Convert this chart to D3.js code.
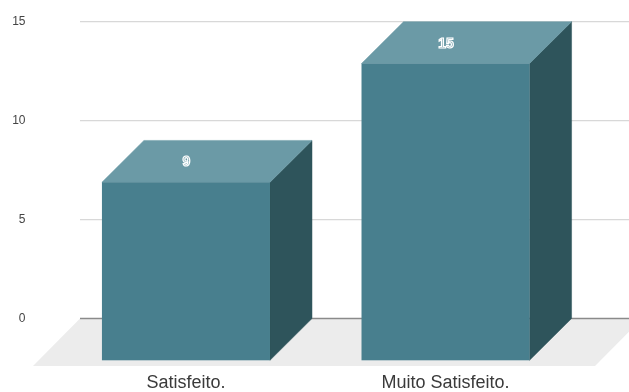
<!DOCTYPE html>
<html><head><meta charset="utf-8">
<script src="https://cdnjs.cloudflare.com/ajax/libs/d3/7.8.5/d3.min.js"></script>
<style>html,body{margin:0;padding:0;background:#fff}svg{display:block;filter:blur(0.35px)}text{font-family:"Liberation Sans",Arial,sans-serif}</style>
</head><body><svg id="c" width="629" height="392"></svg>
<script>
const categories = ["Satisfeito.", "Muito Satisfeito."];
const values = [9, 15];
const yTicks = [0, 5, 10, 15];

const svg = d3.select("#c");
const depthX = 42, depthY = 41.8;
const y = d3.scaleLinear().domain([0, 15]).range([318.5, 21.7]);
const x = d3.scaleBand().domain(categories).range([56.25, 575.25]).paddingInner(0.3526).paddingOuter(0.176);
const path = pts => "M" + pts.map(p => p.join(",")).join("L") + "Z";

// floor
svg.append("path").attr("fill", "#ececec")
  .attr("d", path([[80, 318.5], [642, 318.5], [595, 366], [33, 366]]));

// gridlines and axis labels
svg.selectAll(".grid").data(yTicks).join("line")
  .attr("x1", 80).attr("x2", 629)
  .attr("y1", d => y(d)).attr("y2", d => y(d))
  .attr("stroke", d => d === 0 ? "#8a8a8a" : "#d8d8d8")
  .attr("stroke-width", d => d === 0 ? 1.5 : 1.2);
svg.selectAll(".ytick").data(yTicks).join("text")
  .attr("x", 25.5).attr("y", d => y(d) - 0.5)
  .attr("text-anchor", "end").attr("dominant-baseline", "central")
  .attr("font-size", 12).attr("fill", "#444").text(d => d);

// bars
const bars = svg.selectAll(".bar").data(categories.map((c, i) => ({c, v: values[i]}))).join("g");
const frontX = d => x(d.c), bw = x.bandwidth();
const topY = d => y(d.v) + depthY, baseY = y(0) + depthY;
bars.append("path").attr("fill", "#2e545b").attr("stroke", "#2e545b").attr("stroke-width", 0.5).attr("d", d => path([
  [frontX(d) + bw, topY(d)], [frontX(d) + bw + depthX, y(d.v)],
  [frontX(d) + bw + depthX, y(0)], [frontX(d) + bw, baseY]]));
bars.append("path").attr("fill", "#6b9aa6").attr("stroke", "#6b9aa6").attr("stroke-width", 0.5).attr("d", d => path([
  [frontX(d), topY(d)], [frontX(d) + depthX, y(d.v)],
  [frontX(d) + bw + depthX, y(d.v)], [frontX(d) + bw, topY(d)]]));
bars.append("rect").attr("fill", "#487f8e")
  .attr("x", frontX).attr("width", bw)
  .attr("y", topY).attr("height", d => baseY - topY(d));

// value labels
bars.append("text")
  .attr("x", d => frontX(d) + bw / 2 + 0.5)
  .attr("y", d => y(d.v) + 20.8)
  .attr("text-anchor", "middle").attr("dominant-baseline", "central")
  .attr("font-size", 14).attr("font-weight", "bold")
  .attr("fill", "#7fa8b2").attr("stroke", "#fff").attr("stroke-width", 1.2)
  .text(d => d.v);

// category labels
svg.selectAll(".cat").data(categories).join("text")
  .attr("x", d => x(d) + bw / 2).attr("y", 388.2)
  .attr("text-anchor", "middle")
  .attr("font-size", 18).attr("fill", "#3a3a3a").text(d => d);
</script></body></html>
